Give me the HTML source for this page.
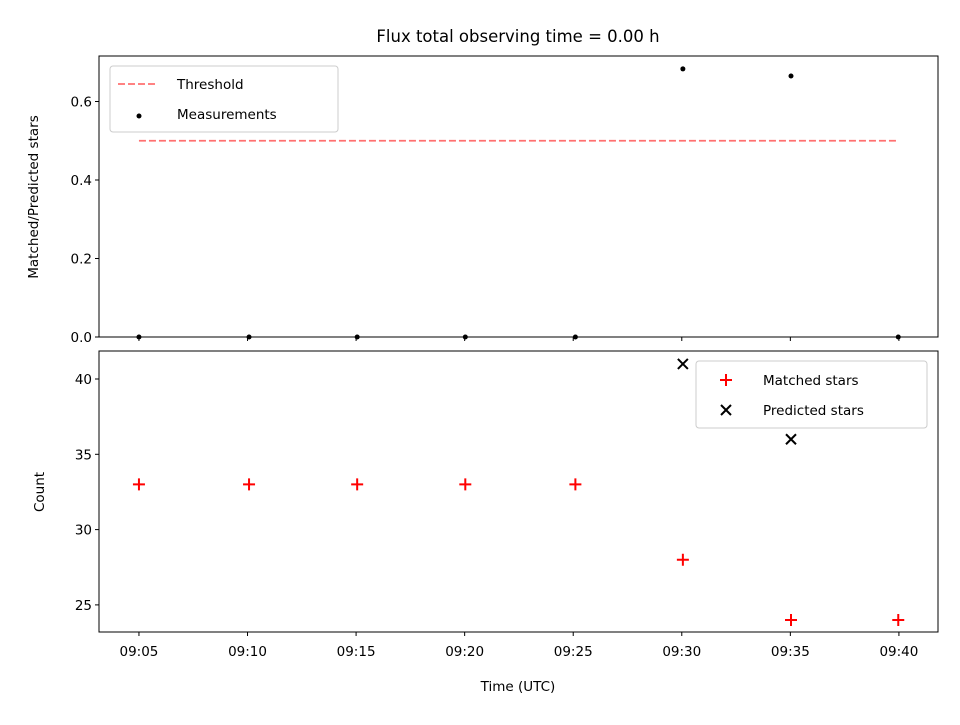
<!DOCTYPE html>
<html><head><meta charset="utf-8"><style>
body{margin:0;background:#fff;font-family:"Liberation Sans","DejaVu Sans",sans-serif}
svg text{font-family:"DejaVu Sans","Liberation Sans",sans-serif;fill:#000}
</style></head><body>
<svg id="c" width="960" height="720" viewBox="0 0 960 720">
<rect width="960" height="720" fill="#fff"/>
<text x="518" y="42" font-size="16.5" text-anchor="middle">Flux total observing time = 0.00 h</text>
<g id="topg"></g><g id="botg"></g>
<text x="518" y="691" font-size="13.5" text-anchor="middle">Time (UTC)</text>
<text transform="translate(38,197) rotate(-90)" font-size="13.5" text-anchor="middle">Matched/Predicted stars</text>
<text transform="translate(44,492) rotate(-90)" font-size="13.5" text-anchor="middle">Count</text>
</svg>
<script>
const times=[5,10.07,15.05,20.03,25.1,30.05,35.03,39.97];
const tickLabels=["09:05","09:10","09:15","09:20","09:25","09:30","09:35","09:40"];
const tickTimes=[5,10,15,20,25,30,35,40];
const ratio=[0,0,0,0,0,0.683,0.665,0];
const threshold=0.5;
const matched=[33,33,33,33,33,28,24,24];
const predTimes=[30.05,35.03];
const predicted=[41,36];
const topTicks=[0,0.2,0.4,0.6];
const botTicks=[25,30,35,40];
const NS="http://www.w3.org/2000/svg";
const X0=99,X1=938;
const x=t=>X0+(t-3.16)/(41.8-3.16)*(X1-X0);
const yT=v=>337-v/0.2*78.5;
const yB=v=>632-(v-23.2)/(41.86-23.2)*281;
function mk(p,tag,a){const e=document.createElementNS(NS,tag);for(const k in a)e.setAttribute(k,a[k]);p.appendChild(e);return e;}
const gTop=document.getElementById('topg'),gBot=document.getElementById('botg');
let th=mk(gTop,'line',{x1:x(times[0]),x2:x(times[times.length-1]),y1:yT(threshold),y2:yT(threshold),stroke:'#ff7070','stroke-width':1.8,'stroke-dasharray':'7,3'});


ratio.forEach((v,i)=>{const c=mk(gTop,'circle',{cx:x(times[i]),cy:yT(v),r:2.5,fill:'#000'});

});
mk(gTop,'rect',{x:X0,y:56,width:X1-X0,height:281,fill:'none',stroke:'#000','stroke-width':1});
topTicks.forEach(v=>{mk(gTop,'line',{x1:X0-4,x2:X0,y1:yT(v),y2:yT(v),stroke:'#000'});
const t=mk(gTop,'text',{x:X0-7,y:yT(v)+5,'font-size':13.5,'text-anchor':'end'});t.textContent=v.toFixed(1);

});
tickTimes.forEach(v=>mk(gTop,'line',{x1:x(v),x2:x(v),y1:337,y2:341,stroke:'#000'}));
const lg=mk(gTop,'g',{});


mk(lg,'rect',{x:110,y:66,width:228,height:66,rx:3,fill:'#fff',stroke:'#ccc'});
mk(lg,'line',{x1:118,x2:158,y1:84,y2:84,stroke:'#ff7070','stroke-width':1.8,'stroke-dasharray':'7,3'});
mk(lg,'circle',{cx:139,cy:116,r:2.5,fill:'#000'});
let t1=mk(lg,'text',{x:177,y:89,'font-size':13.5});t1.textContent='Threshold';
let t2=mk(lg,'text',{x:177,y:119,'font-size':13.5});t2.textContent='Measurements';
function plus(g,cx,cy,col){mk(g,'path',{d:`M${cx-6},${cy}H${cx+6}M${cx},${cy-6}V${cy+6}`,stroke:col,'stroke-width':2});}
function cross(g,cx,cy,col){mk(g,'path',{d:`M${cx-5},${cy-5}L${cx+5},${cy+5}M${cx-5},${cy+5}L${cx+5},${cy-5}`,stroke:col,'stroke-width':2});}
matched.forEach((v,i)=>{const g=mk(gBot,'g',{});


plus(g,x(times[i]),yB(v),'#f00');});
predicted.forEach((v,i)=>{const g=mk(gBot,'g',{});


cross(g,x(predTimes[i]),yB(v),'#000');});
mk(gBot,'rect',{x:X0,y:351,width:X1-X0,height:281,fill:'none',stroke:'#000','stroke-width':1});
botTicks.forEach(v=>{mk(gBot,'line',{x1:X0-4,x2:X0,y1:yB(v),y2:yB(v),stroke:'#000'});
const t=mk(gBot,'text',{x:X0-7,y:yB(v)+5,'font-size':13.5,'text-anchor':'end'});t.textContent=v;

});
tickTimes.forEach((v,i)=>{mk(gBot,'line',{x1:x(v),x2:x(v),y1:632,y2:636,stroke:'#000'});
const t=mk(gBot,'text',{x:x(v),y:656,'font-size':13.5,'text-anchor':'middle'});t.textContent=tickLabels[i];

});
const lb=mk(gBot,'g',{});


mk(lb,'rect',{x:696,y:361,width:231,height:67,rx:3,fill:'#fff',stroke:'#ccc'});
plus(lb,726,380,'#f00');cross(lb,726,410,'#000');
let t3=mk(lb,'text',{x:763,y:385,'font-size':13.5});t3.textContent='Matched stars';
let t4=mk(lb,'text',{x:763,y:415,'font-size':13.5});t4.textContent='Predicted stars';
</script>
</body></html>
